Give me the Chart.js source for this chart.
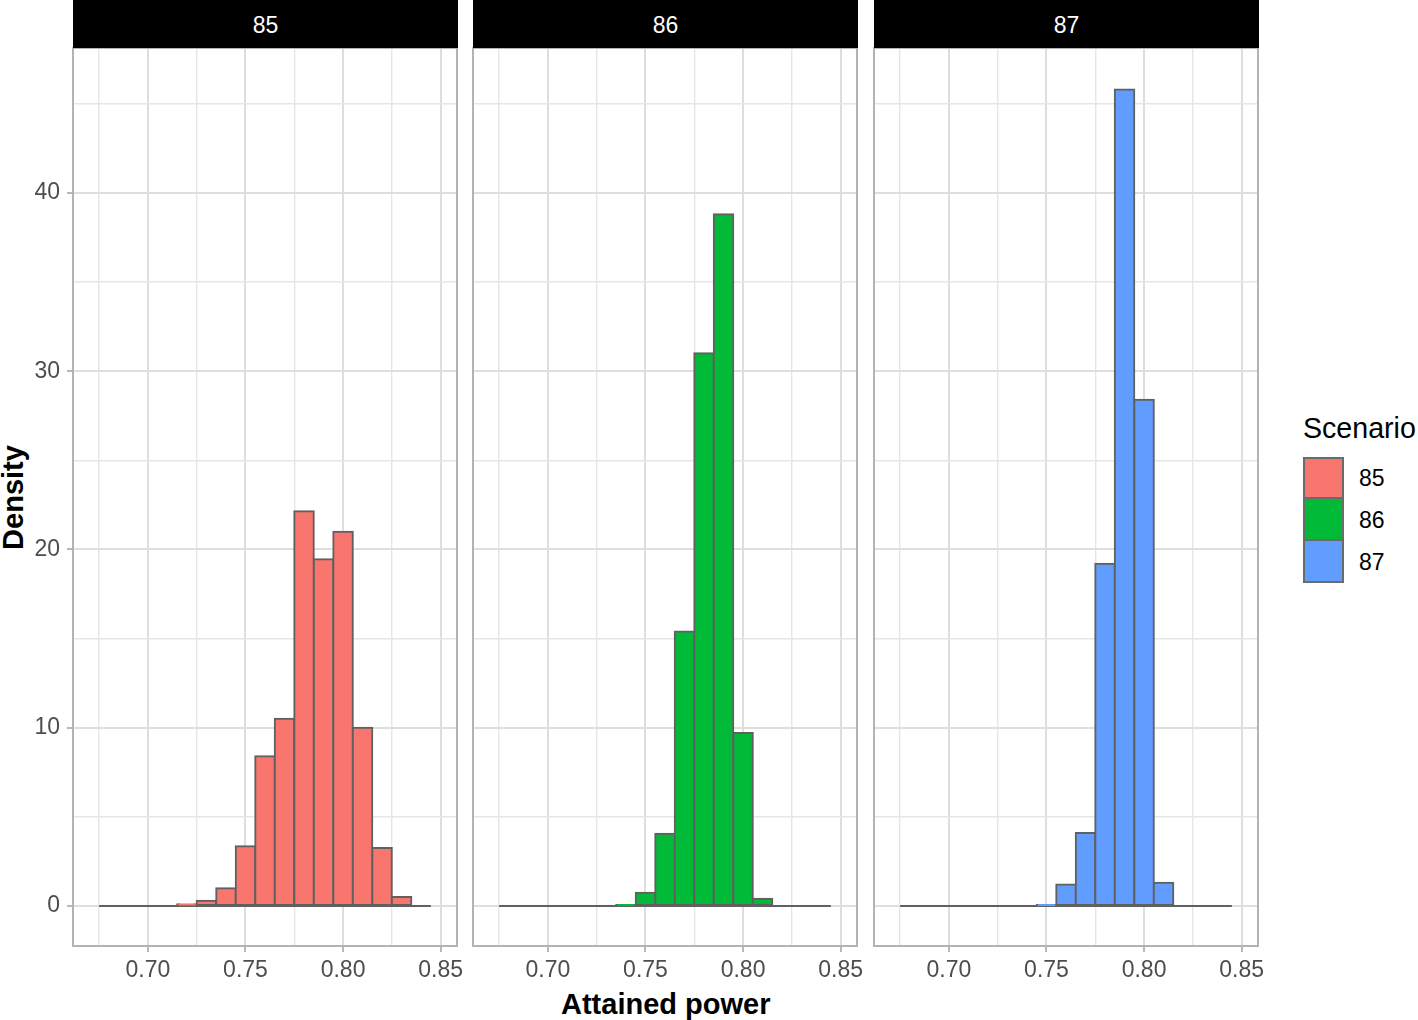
<!DOCTYPE html>
<html>
<head>
<meta charset="utf-8">
<script src="https://cdn.jsdelivr.net/npm/chart.js@4.4.1/dist/chart.umd.min.js"></script>
<style>
  body { margin: 0; background: #fff; }
  #wrap { position: relative; width: 1418px; height: 1020px; overflow: hidden; font-family: "Liberation Sans", Arial, sans-serif; }
  canvas { position: absolute; top: 0; }
  .strip { position: absolute; top: 0; height: 48px; width: 385px; background: #000; color: #fff; font-size: 23px; line-height: 50px; text-align: center; }
  .axis-title { position: absolute; font-weight: bold; font-size: 29px; color: #000; white-space: nowrap; }
  #legend { position: absolute; left: 1303px; top: 409px; color: #000; }
  #legend .title { font-size: 28.6px; line-height: 38px; margin-bottom: 10px; }
  #legend .item { height: 42px; display: flex; align-items: center; }
  #legend .key { width: 37px; height: 38px; border: 2px solid #6b6b6b; margin-right: 15px; }
  #legend .item + .item .key { border-top-width: 0; height: 40px; }
  #legend .label { font-size: 23px; }
</style>
</head>
<body>
<div id="wrap">
  <div id="legend"></div>
  <div class="axis-title" id="ytitle">Density</div>
  <div class="axis-title" id="xtitle">Attained power</div>
</div>
<script>
// Histogram densities per scenario

const binCenters = [0.68, 0.69, 0.70, 0.71, 0.72, 0.73, 0.74, 0.75, 0.76, 0.77, 0.78, 0.79, 0.80, 0.81, 0.82, 0.83, 0.84];
const scenarios = ['85', '86', '87'];
const density85 = [0, 0, 0, 0, 0.1, 0.3, 1.0, 3.35, 8.4, 10.5, 22.15, 19.45, 21.0, 10.0, 3.25, 0.5, 0];
const density86 = [0, 0, 0, 0, 0, 0, 0.05, 0.75, 4.05, 15.4, 31.0, 38.8, 9.7, 0.4, 0, 0, 0];
const density87 = [0, 0, 0, 0, 0, 0, 0, 0.05, 1.2, 4.1, 19.2, 45.8, 28.4, 1.3, 0, 0, 0];
const fillColors = ['#F8766D', '#00BA38', '#619CFF'];

const xGrid = [0.675, 0.70, 0.725, 0.75, 0.775, 0.80, 0.825, 0.85];
const xTickLabels = ['0.70', '0.75', '0.80', '0.85'];
const yGrid = [0, 5, 10, 15, 20, 25, 30, 35, 40, 45];
const yTickLabels = ['0', '10', '20', '30', '40'];

const allDensities = [density85, density86, density87];

const FONT = '"Liberation Sans", Arial, sans-serif';
const PANEL_LEFT = [73, 473, 874];
const PANEL_W = 384;
const PANEL_TOP = 48;
const PANEL_BOTTOM = 946;

function majorLabel(labels, v) {
    const hit = labels.find(l => Math.abs(parseFloat(l) - v) < 1e-9);
    return hit === undefined ? '' : hit;
}

function isMajor(labels, ctx) {
    return !!(ctx.tick && majorLabel(labels, ctx.tick.value));
}

// panel frame drawn on top like ggplot's panel.border
const panelBorder = {
    id: 'panelBorder',
    afterDatasetsDraw(chart) {
        const { left, top, right, bottom } = chart.chartArea;
        const ctx = chart.ctx;
        ctx.save();
        ctx.strokeStyle = '#b3b3b3';
        ctx.lineWidth = 2;
        ctx.strokeRect(left, top, right - left, bottom - top);
        ctx.restore();
    }
};

function makePanel(i) {
    const wrap = document.getElementById('wrap');
    const first = i === 0;
    const padL = first ? 0 : 12;
    const yW = first ? PANEL_LEFT[0] : 0;
    const width = padL + yW + PANEL_W + 14;
    const height = 990;

    const canvas = document.createElement('canvas');
    canvas.width = width;
    canvas.height = height;
    canvas.style.width = width + 'px';
    canvas.style.height = height + 'px';
    canvas.style.left = (PANEL_LEFT[i] - yW - padL) + 'px';
    wrap.appendChild(canvas);

    const strip = document.createElement('div');
    strip.className = 'strip';
    strip.style.left = PANEL_LEFT[i] + 'px';
    strip.textContent = scenarios[i];
    wrap.appendChild(strip);

    const values = allDensities[i];
    const binWidth = binCenters[1] - binCenters[0];

    new Chart(canvas, {
        type: 'bar',
        data: {
            datasets: [
                {
                    type: 'bar',
                    data: binCenters.map((x, k) => ({ x: x, y: values[k] })),
                    backgroundColor: fillColors[i],
                    borderColor: '#606060',
                    borderWidth: 2,
                    borderSkipped: false,
                    inflateAmount: 1,
                    barPercentage: 1,
                    categoryPercentage: 1,
                    order: 1
                },
                {
                    // zero-height bins show up as a flat outline along 0
                    type: 'line',
                    data: [
                        { x: binCenters[0] - binWidth / 2, y: 0 },
                        { x: binCenters[binCenters.length - 1] + binWidth / 2, y: 0 }
                    ],
                    borderColor: '#606060',
                    borderWidth: 2,
                    pointRadius: 0,
                    order: 2
                }
            ]
        },
        options: {
            responsive: false,
            devicePixelRatio: 1,
            animation: false,
            layout: { padding: { left: padL, right: 14, top: PANEL_TOP, bottom: 0 } },
            plugins: {
                legend: { display: false },
                tooltip: { enabled: false }
            },
            scales: {
                x: {
                    type: 'linear',
                    offset: false,
                    min: 0.6616,
                    max: 0.8584,
                    afterBuildTicks: scale => { scale.ticks = xGrid.map(v => ({ value: v })); },
                    afterFit: scale => { scale.height = height - PANEL_BOTTOM; },
                    border: { display: false },
                    grid: {
                        offset: false,
                        color: ctx => isMajor(xTickLabels, ctx) ? '#dedede' : '#e6e6e6',
                        lineWidth: ctx => isMajor(xTickLabels, ctx) ? 2 : 1.4,
                        tickColor: ctx => isMajor(xTickLabels, ctx) ? '#b8b8b8' : 'rgba(0,0,0,0)',
                        tickLength: 6,
                        tickWidth: 2
                    },
                    ticks: {
                        autoSkip: false,
                        maxRotation: 0,
                        padding: 5,
                        color: '#4d4d4d',
                        font: { family: FONT, size: 23 },
                        callback: value => majorLabel(xTickLabels, value)
                    }
                },
                y: {
                    min: -2.244,
                    max: 48.13,
                    afterBuildTicks: scale => { scale.ticks = yGrid.map(v => ({ value: v })); },
                    afterFit: scale => { scale.width = yW; },
                    border: { display: false },
                    grid: {
                        color: ctx => isMajor(yTickLabels, ctx) ? '#dedede' : '#e6e6e6',
                        lineWidth: ctx => isMajor(yTickLabels, ctx) ? 2 : 1.4,
                        tickColor: ctx => isMajor(yTickLabels, ctx) ? '#b8b8b8' : 'rgba(0,0,0,0)',
                        drawTicks: first,
                        tickLength: 6,
                        tickWidth: 2
                    },
                    ticks: {
                        display: first,
                        padding: 7,
                        color: '#4d4d4d',
                        font: { family: FONT, size: 23 },
                        callback: value => majorLabel(yTickLabels, value)
                    }
                }
            }
        },
        plugins: [panelBorder]
    });
}

function buildLegend() {
    const legend = document.getElementById('legend');
    let html = '<div class="title">Scenario</div>';
    scenarios.forEach((s, i) => {
        html += '<div class="item"><div class="key" style="background:' + fillColors[i] + '"></div>' +
            '<div class="label">' + s + '</div></div>';
    });
    legend.innerHTML = html;
}

function placeTitles() {
    const yt = document.getElementById('ytitle');
    const xt = document.getElementById('xtitle');
    const midY = (PANEL_TOP + PANEL_BOTTOM) / 2;
    const midX = (PANEL_LEFT[0] + PANEL_LEFT[2] + PANEL_W) / 2;
    yt.style.left = (13 - yt.offsetWidth / 2) + 'px';
    yt.style.top = (midY - yt.offsetHeight / 2) + 'px';
    yt.style.transform = 'rotate(-90deg)';
    xt.style.left = (midX - xt.offsetWidth / 2) + 'px';
    xt.style.top = (1004 - xt.offsetHeight / 2) + 'px';
}

scenarios.forEach((s, i) => makePanel(i));
buildLegend();
placeTitles();
</script>
</body>
</html>
